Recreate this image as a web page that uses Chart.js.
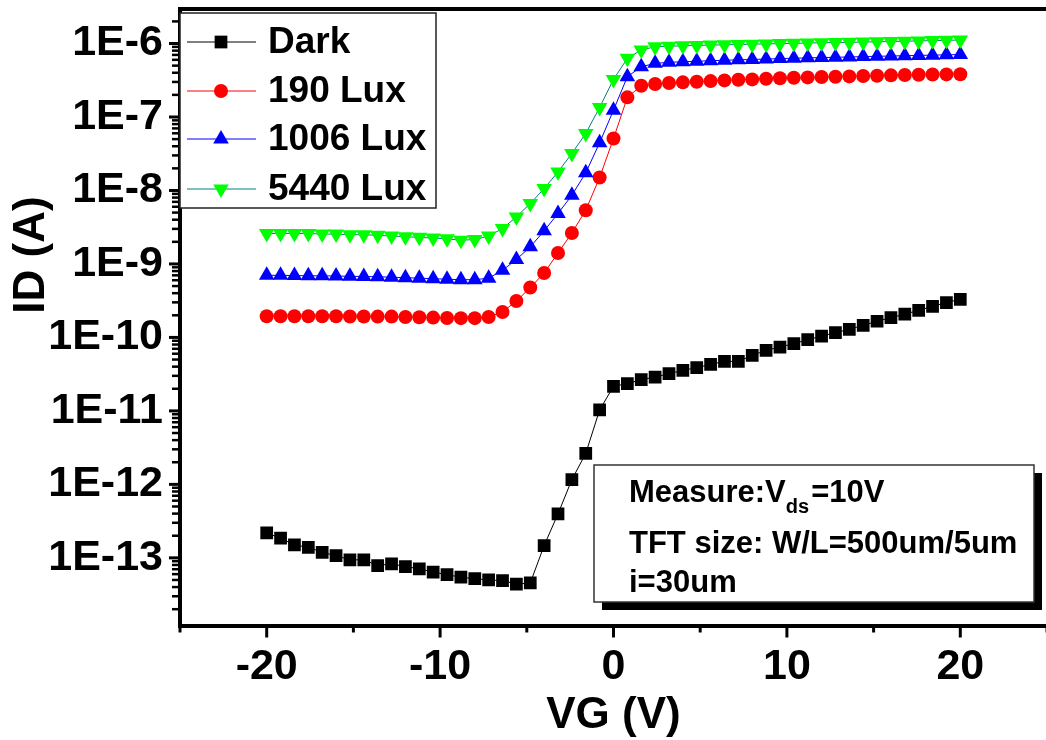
<!DOCTYPE html>
<html>
<head>
<meta charset="utf-8">
<title>ID-VG</title>
<script src="https://cdn.jsdelivr.net/npm/chart.js@4.4.1/dist/chart.umd.min.js"></script>
<style>
  html, body { margin: 0; padding: 0; background: #fff; overflow: hidden; }
  #wrap { width: 1046px; height: 740px; overflow: hidden; }
  canvas { display: block; }
</style>
</head>
<body>
<div id="wrap"><canvas id="idvgChart" width="1056" height="740" style="width:1056px;height:740px"></canvas></div>
<script>
const FONT = '"Liberation Sans", Arial, sans-serif';

// gate voltage sweep (V)
const vgValues = [-20, -19.2, -18.4, -17.6, -16.8, -16, -15.2, -14.4, -13.6, -12.8,
  -12, -11.2, -10.4, -9.6, -8.8, -8, -7.2, -6.4, -5.6, -4.8,
  -4, -3.2, -2.4, -1.6, -0.8, 0, 0.8, 1.6, 2.4, 3.2,
  4, 4.8, 5.6, 6.4, 7.2, 8, 8.8, 9.6, 10.4, 11.2,
  12, 12.8, 13.6, 14.4, 15.2, 16, 16.8, 17.6, 18.4, 19.2, 20];

// drain current (A)
const darkId = [2.18e-13, 1.85e-13, 1.50e-13, 1.39e-13, 1.19e-13,
  1.07e-13, 9.4e-14, 9.4e-14, 7.85e-14, 8.3e-14,
  7.6e-14, 7.1e-14, 6.4e-14, 5.9e-14, 5.45e-14,
  5.2e-14, 5.0e-14, 4.9e-14, 4.4e-14, 4.55e-14,
  1.47e-13, 3.97e-13, 1.16e-12, 2.64e-12, 1.03e-11,
  2.16e-11, 2.35e-11, 2.66e-11, 2.89e-11, 3.21e-11,
  3.56e-11, 3.88e-11, 4.30e-11, 4.72e-11, 4.72e-11,
  5.70e-11, 6.67e-11, 7.40e-11, 8.23e-11, 9.33e-11,
  1.04e-10, 1.16e-10, 1.29e-10, 1.46e-10, 1.66e-10,
  1.86e-10, 2.07e-10, 2.34e-10, 2.65e-10, 2.98e-10, 3.30e-10];

const lux190Id = [1.94e-10, 1.94e-10, 1.94e-10, 1.94e-10, 1.94e-10, 1.94e-10,
  1.93e-10, 1.93e-10, 1.92e-10, 1.92e-10, 1.90e-10, 1.88e-10, 1.86e-10, 1.84e-10,
  1.83e-10, 1.83e-10, 1.90e-10,
  2.22e-10, 3.13e-10, 4.77e-10, 7.53e-10, 1.41e-9, 2.64e-9, 5.39e-9, 1.50e-8, 5.1e-8, 1.85e-7,
  2.66e-7, 2.81e-7, 2.90e-7, 2.96e-7, 3.02e-7, 3.08e-7, 3.15e-7, 3.21e-7, 3.25e-7, 3.31e-7,
  3.36e-7, 3.42e-7, 3.46e-7, 3.50e-7, 3.53e-7, 3.57e-7, 3.61e-7, 3.64e-7, 3.69e-7, 3.72e-7,
  3.76e-7, 3.78e-7, 3.80e-7, 3.82e-7];

const lux1006Id = [7.0e-10, 7.0e-10, 6.95e-10, 6.9e-10, 6.9e-10, 6.85e-10, 6.8e-10, 6.75e-10,
  6.7e-10, 6.6e-10, 6.5e-10, 6.4e-10, 6.3e-10, 6.2e-10, 6.1e-10, 6.1e-10, 6.4e-10,
  8.2e-10, 1.15e-9, 1.71e-9, 2.82e-9, 4.87e-9, 8.6e-9, 1.74e-8, 4.46e-8, 1.24e-7, 3.53e-7, 4.83e-7,
  5.37e-7, 5.55e-7, 5.65e-7, 5.74e-7, 5.83e-7, 5.92e-7, 6.00e-7, 6.07e-7, 6.15e-7, 6.23e-7,
  6.31e-7, 6.38e-7, 6.44e-7, 6.50e-7, 6.56e-7, 6.64e-7, 6.70e-7, 6.76e-7, 6.82e-7, 6.89e-7,
  6.95e-7, 7.02e-7, 7.08e-7];

const lux5440Id = [2.6e-9, 2.6e-9, 2.6e-9, 2.6e-9, 2.55e-9, 2.55e-9, 2.5e-9, 2.5e-9,
  2.45e-9, 2.4e-9, 2.35e-9, 2.3e-9, 2.25e-9, 2.2e-9, 2.1e-9, 2.15e-9, 2.4e-9,
  3.03e-9, 4.37e-9, 6.65e-9, 1.06e-8, 1.79e-8, 3.19e-8, 5.98e-8, 1.35e-7, 3.25e-7, 6.28e-7, 8.15e-7,
  9.05e-7, 9.19e-7, 9.30e-7, 9.42e-7, 9.51e-7, 9.60e-7, 9.69e-7, 9.78e-7, 9.88e-7, 9.97e-7,
  1.006e-6, 1.016e-6, 1.025e-6, 1.032e-6, 1.038e-6, 1.048e-6, 1.055e-6, 1.065e-6, 1.075e-6,
  1.085e-6, 1.095e-6, 1.105e-6, 1.116e-6];

const seriesLabels = ['Dark', '190 Lux', '1006 Lux', '5440 Lux'];
const noteLines = ['Measure:V', 'TFT size: W/L=500um/5um', 'i=30um'];

const toPoints = (ys) => vgValues.map((v, i) => ({ x: v, y: ys[i] }));

const isDecade = (v) => Math.abs(Math.log10(v) - Math.round(Math.log10(v))) < 1e-6;
const isWhole = (v) => {
  const m = v / Math.pow(10, Math.floor(Math.log10(v) + 1e-9));
  return Math.abs(m - Math.round(m)) < 1e-6;
};

// tick marks on both axes + top frame line
const axisTicks = {
  id: 'axisTicks',
  afterDraw(chart) {
    const { ctx, chartArea } = chart;
    const xs = chart.scales.x, ys = chart.scales.y;
    ctx.save();
    ctx.strokeStyle = '#000';
    ctx.lineCap = 'butt';
    xs.ticks.forEach(t => {
      const px = xs.getPixelForValue(t.value);
      const major = Math.abs(t.value % 10) < 1e-9;
      ctx.lineWidth = 3;
      ctx.beginPath();
      ctx.moveTo(px, chartArea.bottom);
      ctx.lineTo(px, chartArea.bottom + (major ? 12 : 7));
      ctx.stroke();
    });
    ys.ticks.forEach(t => {
      if (!isWhole(t.value)) return;
      const py = ys.getPixelForValue(t.value);
      if (py < chartArea.top + 2) return;
      const major = isDecade(t.value);
      ctx.lineWidth = major ? 3 : 2.5;
      ctx.beginPath();
      ctx.moveTo(chartArea.left, py);
      ctx.lineTo(chartArea.left - (major ? 11 : 8), py);
      ctx.stroke();
    });
    ctx.lineWidth = 4;
    ctx.beginPath();
    ctx.moveTo(chartArea.left - 2, chartArea.top);
    ctx.lineTo(chart.width, chartArea.top);
    ctx.stroke();
    ctx.restore();
  }
};

// legend with line through marker, and the measurement note
const overlay = {
  id: 'overlay',
  afterDraw(chart) {
    const ctx = chart.ctx;
    ctx.save();

    // y title
    ctx.save();
    ctx.translate(32, 255);
    ctx.rotate(-Math.PI / 2);
    ctx.font = 'bold 44px ' + FONT;
    ctx.fillStyle = '#000';
    ctx.textAlign = 'center';
    ctx.textBaseline = 'middle';
    ctx.fillText('ID (A)', 0, 0);
    ctx.restore();

    // legend
    ctx.fillStyle = '#fff';
    ctx.fillRect(180, 13, 256, 195);
    ctx.strokeStyle = '#222';
    ctx.lineWidth = 1.5;
    ctx.strokeRect(180, 13, 256, 195);
    const rows = [42, 91, 139, 189];
    chart.data.datasets.forEach((ds, i) => {
      const y = rows[i];
      ctx.strokeStyle = ds.borderColor;
      ctx.lineWidth = 1;
      ctx.beginPath();
      ctx.moveTo(187, y);
      ctx.lineTo(256, y);
      ctx.stroke();
      ctx.fillStyle = ds.pointBackgroundColor;
      Chart.helpers.drawPoint(ctx, {
        pointStyle: ds.pointStyle,
        radius: ds.pointRadius,
        rotation: ds.pointRotation || 0,
        borderWidth: 0
      }, 221, y);
      ctx.fillStyle = '#000';
      ctx.font = 'bold 37px ' + FONT;
      ctx.textAlign = 'left';
      ctx.textBaseline = 'middle';
      ctx.fillText(ds.label, 268, y + 1);
    });

    // note box with shadow
    ctx.fillStyle = '#000';
    ctx.fillRect(602, 473, 440, 137);
    ctx.fillStyle = '#fff';
    ctx.fillRect(594, 465, 440, 137);
    ctx.strokeStyle = '#333';
    ctx.lineWidth = 1.5;
    ctx.strokeRect(594, 465, 440, 137);
    ctx.fillStyle = '#000';
    ctx.textAlign = 'left';
    ctx.textBaseline = 'alphabetic';
    ctx.font = 'bold 31px ' + FONT;
    ctx.fillText(noteLines[0], 629, 502);
    let x = 629 + ctx.measureText(noteLines[0]).width;
    ctx.font = 'bold 20px ' + FONT;
    ctx.fillText('ds', x, 513);
    x += ctx.measureText('ds').width + 2;
    ctx.font = 'bold 31px ' + FONT;
    ctx.fillText('=10V', x, 502);
    ctx.fillText(noteLines[1], 629, 553);
    ctx.fillText(noteLines[2], 629, 592);
    ctx.restore();
  }
};

const ctx = document.getElementById('idvgChart').getContext('2d');
new Chart(ctx, {
  type: 'line',
  data: {
    datasets: [
      {
        label: seriesLabels[0],
        data: toPoints(darkId),
        borderColor: '#000000',
        pointBackgroundColor: '#000000',
        pointStyle: 'rect',
        pointRadius: 9,
        order: 3
      },
      {
        label: seriesLabels[1],
        data: toPoints(lux190Id),
        borderColor: '#ff0000',
        pointBackgroundColor: '#ff0000',
        pointStyle: 'circle',
        pointRadius: 7,
        order: 2
      },
      {
        label: seriesLabels[2],
        data: toPoints(lux1006Id),
        borderColor: '#0000ff',
        pointBackgroundColor: '#0000ff',
        pointStyle: 'triangle',
        pointRadius: 9,
        order: 1
      },
      {
        label: seriesLabels[3],
        data: toPoints(lux5440Id),
        borderColor: '#008080',
        pointBackgroundColor: '#00ff00',
        pointStyle: 'triangle',
        pointRotation: 180,
        pointRadius: 9,
        order: 0
      }
    ]
  },
  options: {
    responsive: false,
    animation: false,
    layout: { padding: { top: 9, right: 6, left: 0, bottom: 0 } },
    elements: {
      line: { borderWidth: 1, tension: 0, fill: false },
      point: { borderWidth: 0, hoverRadius: 9 }
    },
    plugins: {
      legend: { display: false },
      tooltip: { enabled: false }
    },
    scales: {
      x: {
        type: 'linear',
        min: -25,
        max: 25,
        afterFit: (scale) => {
          scale.height = 114.5;
          scale.paddingLeft = 0;
          scale.paddingRight = 0;
        },
        grid: { display: false, drawTicks: false },
        border: { display: true, color: '#000', width: 4 },
        ticks: {
          stepSize: 5,
          autoSkip: false,
          maxRotation: 0,
          padding: 16,
          color: '#000',
          font: { family: FONT, size: 43, weight: 'bold' },
          callback: (v) => (v % 10 === 0 && Math.abs(v) < 25 ? String(v) : '')
        },
        title: {
          display: true,
          text: 'VG (V)',
          color: '#000',
          font: { family: FONT, size: 44, weight: 'bold', lineHeight: 1 },
          padding: { top: 0, bottom: 2 }
        }
      },
      y: {
        type: 'logarithmic',
        min: 1.2e-14,
        max: 2.95e-6,
        afterFit: (scale) => {
          scale.width = 180;
          scale.paddingTop = 0;
          scale.paddingBottom = 0;
        },
        grid: { display: false, drawTicks: false },
        border: { display: true, color: '#000', width: 4 },
        ticks: {
          autoSkip: false,
          padding: 17,
          color: '#000',
          font: { family: FONT, size: 43, weight: 'bold' },
          callback: (v) => (isDecade(v) ? '1E' + Math.round(Math.log10(v)) : '')
        }
      }
    }
  },
  plugins: [axisTicks, overlay]
});
</script>
</body>
</html>
